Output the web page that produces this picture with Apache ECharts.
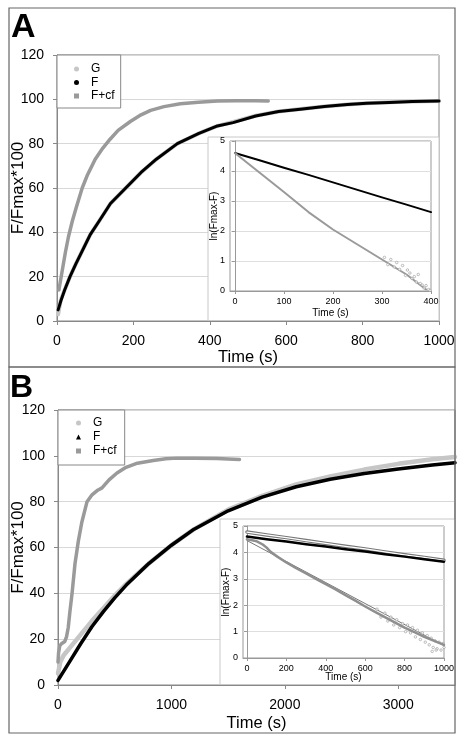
<!DOCTYPE html>
<html><head><meta charset="utf-8">
<script src="https://cdn.jsdelivr.net/npm/echarts@6/dist/echarts.min.js"></script>
<style>html,body{margin:0;padding:0;background:#fff}#c{width:464px;height:743px}</style>
</head><body><div id="c"></div>
<script>
const FONT = 'Liberation Sans, Arial, Helvetica, sans-serif';

// ---------- Panel A, main plot (time s, F/Fmax*100) ----------
const tA_G  = [3, 10, 20, 34, 50, 70, 87, 110, 140, 180, 220, 260, 315, 370, 420, 461, 520, 580, 637, 700, 760, 811, 870, 930, 1000];
const vA_G  = [3, 9.5, 14, 20, 26, 33, 39, 45, 53, 60, 67, 73, 80, 84.5, 88, 89.8, 92.6, 94.5, 95.6, 96.8, 97.7, 98.2, 98.7, 99, 99.3];
const tA_F  = [3, 10, 20, 34, 50, 70, 87, 110, 140, 180, 220, 260, 315, 370, 420, 461, 520, 580, 637, 700, 760, 811, 870, 930, 1000];
const vA_F  = [5, 9, 14, 20, 26, 33, 39, 45, 53, 60, 67, 73, 80, 84.5, 88, 89.5, 92.5, 94.5, 95.5, 96.8, 97.7, 98.2, 98.6, 99, 99.2];
const tA_FC = [5, 8, 15, 22, 30, 40, 50, 66, 80, 100, 120, 139, 160, 192, 220, 245, 280, 323, 370, 420, 470, 520, 553];
const vA_FC = [14, 17, 24, 31, 38, 45, 51, 60, 66, 73, 78, 82, 86, 90, 93, 95, 96.7, 98, 98.7, 99.2, 99.4, 99.4, 99.3];

// ---------- Panel A, inset (ln(Fmax-F)) ----------
const tA_lnF  = [0, 50, 100, 150, 200, 250, 300, 350, 400];
const vA_lnF  = [4.6, 4.36, 4.11, 3.87, 3.62, 3.37, 3.12, 2.88, 2.63];
const tA_lnFC = [0, 50, 100, 150, 200, 250, 300, 350, 390];
const vA_lnFC = [4.6, 3.95, 3.3, 2.63, 2.05, 1.55, 1.05, 0.55, 0.05];
const tA_noise = [305, 312, 318, 325, 330, 336, 342, 348, 352, 357, 361, 366, 370, 374, 378, 382, 386, 390, 395, 398];
const vA_noise = [1.12, 0.88, 1.05, 0.8, 0.95, 0.72, 0.85, 0.52, 0.7, 0.6, 0.42, 0.48, 0.3, 0.55, 0.25, 0.2, 0.1, 0.18, 0.05, 0.02];

// ---------- Panel B, main plot ----------
const tB_G  = [0, 20, 50, 100, 200, 300, 400, 500, 600, 800, 1000, 1200, 1500, 1800, 2100, 2400, 2700, 3000, 3300, 3500];
const vB_G  = [5, 10, 13, 16, 22, 28, 33.5, 39, 44, 53, 61, 68, 76.5, 82.5, 87.5, 91, 94, 96.5, 98.5, 99.5];
const tB_F  = [0, 100, 200, 300, 400, 500, 600, 800, 1000, 1200, 1500, 1800, 2100, 2400, 2700, 3000, 3300, 3500];
const vB_F  = [2, 10, 18, 25.5, 32, 38, 43.5, 53, 61, 68, 76, 82, 86.5, 89.8, 92.3, 94.3, 96, 97];
const tB_FC = [0, 5, 15, 30, 45, 60, 75, 90, 105, 124, 150, 180, 210, 256, 300, 350, 388, 450, 520, 600, 700, 840, 950, 1050, 1200, 1400, 1600];
const vB_FC = [10, 14, 17, 18, 18.5, 19, 21, 25, 32, 40, 53, 63, 71, 80, 83, 85, 86, 89.5, 92.5, 95, 96.8, 98, 98.7, 99, 99, 98.8, 98.4];

// ---------- Panel B, inset ----------
const tB_lnG  = [0, 100, 200, 300, 400, 500, 600, 700, 800, 900, 1000];
const vB_lnG  = [4.77, 4.66, 4.56, 4.45, 4.34, 4.23, 4.13, 4.02, 3.91, 3.81, 3.7];
const tB_lnF  = [0, 100, 200, 300, 400, 500, 600, 700, 800, 900, 1000];
const vB_lnF  = [4.6, 4.5, 4.41, 4.31, 4.22, 4.12, 4.03, 3.93, 3.84, 3.74, 3.65];
const tB_lnFC = [0, 20, 50, 80, 100, 120, 156, 200, 250, 300, 350, 400, 450, 500, 550, 600, 650, 700, 750, 800, 850, 900, 950, 1000];
const vB_lnFC = [4.5, 4.47, 4.42, 4.3, 4.18, 4.02, 3.83, 3.62, 3.4, 3.2, 3.0, 2.8, 2.6, 2.38, 2.17, 1.95, 1.75, 1.55, 1.35, 1.15, 0.98, 0.8, 0.65, 0.5];
const tB_fit  = [0, 1000];
const vB_fit  = [4.45, 0.47];
const tB_noise = [660, 680, 700, 715, 730, 745, 760, 775, 790, 805, 815, 830, 840, 855, 865, 880, 890, 905, 915, 925, 935, 945, 955, 965, 975, 985, 995, 1000, 940, 960];
const vB_noise = [1.85, 1.55, 1.7, 1.4, 1.55, 1.25, 1.45, 1.15, 1.3, 1.0, 1.25, 0.95, 1.15, 0.8, 1.05, 0.7, 0.95, 0.6, 0.85, 0.5, 0.75, 0.4, 0.65, 0.35, 0.6, 0.3, 0.55, 0.4, 0.25, 0.3];

// tick labels
const xTicksA = [0, 200, 400, 600, 800, 1000];
const xTicksB = [0, 1000, 2000, 3000];
const xTicksAin = [0, 100, 200, 300, 400];
const xTicksBin = [0, 200, 400, 600, 800, 1000];

const C_G = '#c6c6c6', C_F = '#000000', C_FC = '#9a9a9a';
const pairs = (t, v) => t.map((x, i) => [x, v[i]]);
const plain = v => String(v);

const chart = echarts.init(document.getElementById('c'), null, {renderer: 'canvas'});

function mainX(gi, min, max, ticks, gap) {
  return {gridIndex: gi, type: 'value', min: min, max: max,
    name: 'Time (s)', nameLocation: 'middle', nameGap: gap, nameMoveOverlap: false,
    nameTextStyle: {fontSize: 16.5, color: '#000', fontFamily: FONT},
    axisLine: {show: true, lineStyle: {color: '#888'}},
    axisTick: {show: true, length: 4, lineStyle: {color: '#888'}, customValues: ticks},
    axisLabel: {fontSize: 14, color: '#000', margin: 13, fontFamily: FONT, customValues: ticks, formatter: plain},
    splitLine: {show: false}};
}
function mainY(gi, gap) {
  return {gridIndex: gi, type: 'value', min: 0, max: 120, interval: 20,
    name: 'F/Fmax*100', nameLocation: 'middle', nameGap: gap, nameRotate: 90, nameMoveOverlap: false,
    nameTextStyle: {fontSize: 17, color: '#000', fontFamily: FONT},
    axisLine: {show: true, lineStyle: {color: '#888'}},
    axisTick: {show: true, length: 4, lineStyle: {color: '#888'}},
    axisLabel: {fontSize: 14, color: '#000', margin: 13, fontFamily: FONT, formatter: plain},
    splitLine: {show: true, lineStyle: {color: '#d8d8d8', width: 1}}};
}
function inX(gi, min, max, ticks, gap) {
  return {gridIndex: gi, type: 'value', min: min, max: max, z: 11,
    name: 'Time (s)', nameLocation: 'middle', nameGap: gap, nameMoveOverlap: false,
    nameTextStyle: {fontSize: 10, color: '#000', fontFamily: FONT},
    axisLine: {show: true, lineStyle: {color: '#999'}},
    axisTick: {show: true, length: 3, lineStyle: {color: '#999'}, customValues: ticks},
    axisLabel: {fontSize: 9, color: '#000', margin: 6, fontFamily: FONT, customValues: ticks, formatter: plain},
    splitLine: {show: false}};
}
function inY(gi, gap) {
  return {gridIndex: gi, type: 'value', min: 0, max: 5, interval: 1, z: 11,
    name: 'ln(Fmax-F)', nameLocation: 'middle', nameGap: gap, nameRotate: 90, nameMoveOverlap: false,
    nameTextStyle: {fontSize: 10, color: '#000', fontFamily: FONT},
    axisLine: {show: true, lineStyle: {color: '#999'}},
    axisTick: {show: true, length: 3, lineStyle: {color: '#999'}},
    axisLabel: {fontSize: 9, color: '#000', margin: 5, fontFamily: FONT, formatter: plain},
    splitLine: {show: true, lineStyle: {color: '#dedede', width: 1}}};
}
function lineS(name, xi, data, color, width, z) {
  return {name: name, type: 'line', xAxisIndex: xi, yAxisIndex: xi, data: data,
    symbol: 'none', smooth: false, z: z || 2, silent: true, animation: false,
    lineStyle: {color: color, width: width, join: 'round', cap: 'round'}, itemStyle: {color: color}};
}
function scatS(name, xi, data, color, size, z) {
  return {name: name, type: 'scatter', xAxisIndex: xi, yAxisIndex: xi, data: data,
    symbol: 'circle', symbolSize: size, z: z || 2, silent: true, animation: false,
    itemStyle: {color: '#fff', borderColor: color, borderWidth: 0.8}};
}
function legend(left, top, pad, lh, gap, fIcon) {
  return {show: true, orient: 'vertical', left: left, top: top, padding: pad,
    itemGap: gap, itemWidth: 5, itemHeight: 5, z: 6,
    backgroundColor: '#fff', borderColor: '#888', borderWidth: 1, borderRadius: 0,
    selectedMode: false,
    textStyle: {fontSize: 12, color: '#000', fontFamily: FONT, lineHeight: lh, padding: [0, 0, 0, 7]},
    data: [
      {name: 'G', icon: 'circle', itemStyle: {color: C_G}},
      {name: 'F', icon: fIcon, itemStyle: {color: C_F}},
      {name: 'F+cf', icon: 'rect', itemStyle: {color: C_FC}}
    ]};
}
function grid(l, t, r, b, bc, bg, z) {
  return {left: l, top: t, right: r, bottom: b, show: true, borderColor: bc, borderWidth: 1,
    backgroundColor: bg, z: z, containLabel: false, outerBoundsMode: 'none'};
}

const option = {
  animation: false,
  backgroundColor: '#fff',
  grid: [
    grid(57, 55, 25, 422, '#888', 'transparent', 0),
    grid(230, 141, 33, 452, '#999', '#fff', 10),
    grid(58, 410, 9, 58, '#888', 'transparent', 0),
    grid(243, 526, 20, 85, '#999', '#fff', 10)
  ],
  xAxis: [
    mainX(0, 0, 1000, xTicksA, 28),
    inX(1, -10, 400, xTicksAin, 17),
    mainX(2, 0, 3500, xTicksB, 30),
    inX(3, -20, 1000, xTicksBin, 14)
  ],
  yAxis: [
    mainY(0, 30),
    inY(1, 11),
    mainY(2, 31),
    inY(3, 12)
  ],
  legend: [
    legend(57, 55, [7.5, 6, 5.5, 17], 13, 0.5, 'circle'),
    legend(58, 410, [6.5, 8, 7.5, 18], 13, 1, 'triangle')
  ],
  graphic: {elements: [
    {type: 'rect', shape: {x: 9, y: 8, width: 446, height: 359}, style: {fill: 'none', stroke: '#666', lineWidth: 1.2}, z: 20, silent: true},
    {type: 'rect', shape: {x: 9, y: 367, width: 446, height: 366}, style: {fill: 'none', stroke: '#666', lineWidth: 1.2}, z: 20, silent: true},
    {type: 'text', x: 11, y: 27.5, style: {text: 'A', font: 'bold 34px ' + FONT, fill: '#000', verticalAlign: 'middle'}, z: 20},
    {type: 'text', x: 10, y: 388, style: {text: 'B', font: 'bold 32px ' + FONT, fill: '#000', verticalAlign: 'middle'}, z: 20},
    {type: 'rect', shape: {x: 208, y: 137, width: 231, height: 183.5}, style: {fill: '#fff', stroke: '#c8c8c8', lineWidth: 1}, z: 9, silent: true},
    {type: 'rect', shape: {x: 220, y: 519, width: 235, height: 165.5}, style: {fill: '#fff', stroke: '#c8c8c8', lineWidth: 1}, z: 9, silent: true}
  ]},
  series: [
    // Panel A main
    lineS('G', 0, pairs(tA_G, vA_G), C_G, 4, 2),
    lineS('F', 0, pairs(tA_F, vA_F), C_F, 3, 3),
    lineS('F+cf', 0, pairs(tA_FC, vA_FC), C_FC, 3.5, 3),
    // Panel A inset
    lineS('lnF A', 1, pairs(tA_lnF, vA_lnF), C_F, 2, 12),
    lineS('lnFcf A', 1, pairs(tA_lnFC, vA_lnFC), C_FC, 2, 12),
    scatS('lnFcf A pts', 1, pairs(tA_noise, vA_noise), '#999', 2.5, 12),
    // Panel B main
    lineS('G', 2, pairs(tB_G, vB_G), C_G, 4.5, 2),
    lineS('F', 2, pairs(tB_F, vB_F), C_F, 3.5, 3),
    lineS('F+cf', 2, pairs(tB_FC, vB_FC), C_FC, 3.5, 3),
    // Panel B inset
    lineS('lnG B outer', 3, pairs(tB_lnG, vB_lnG), '#777', 3.5, 12),
    lineS('lnG B inner', 3, pairs(tB_lnG, vB_lnG), '#fff', 1.3, 12),
    lineS('lnF B', 3, pairs(tB_lnF, vB_lnF), C_F, 2.5, 13),
    lineS('fit B', 3, pairs(tB_fit, vB_fit), '#777', 1, 12),
    scatS('lnFcf B pts', 3, pairs(tB_noise, vB_noise), '#999', 2.5, 12),
    lineS('lnFcf B', 3, pairs(tB_lnFC, vB_lnFC), '#8f8f8f', 2.5, 13)
  ]
};
chart.setOption(option);
</script>
</body></html>
